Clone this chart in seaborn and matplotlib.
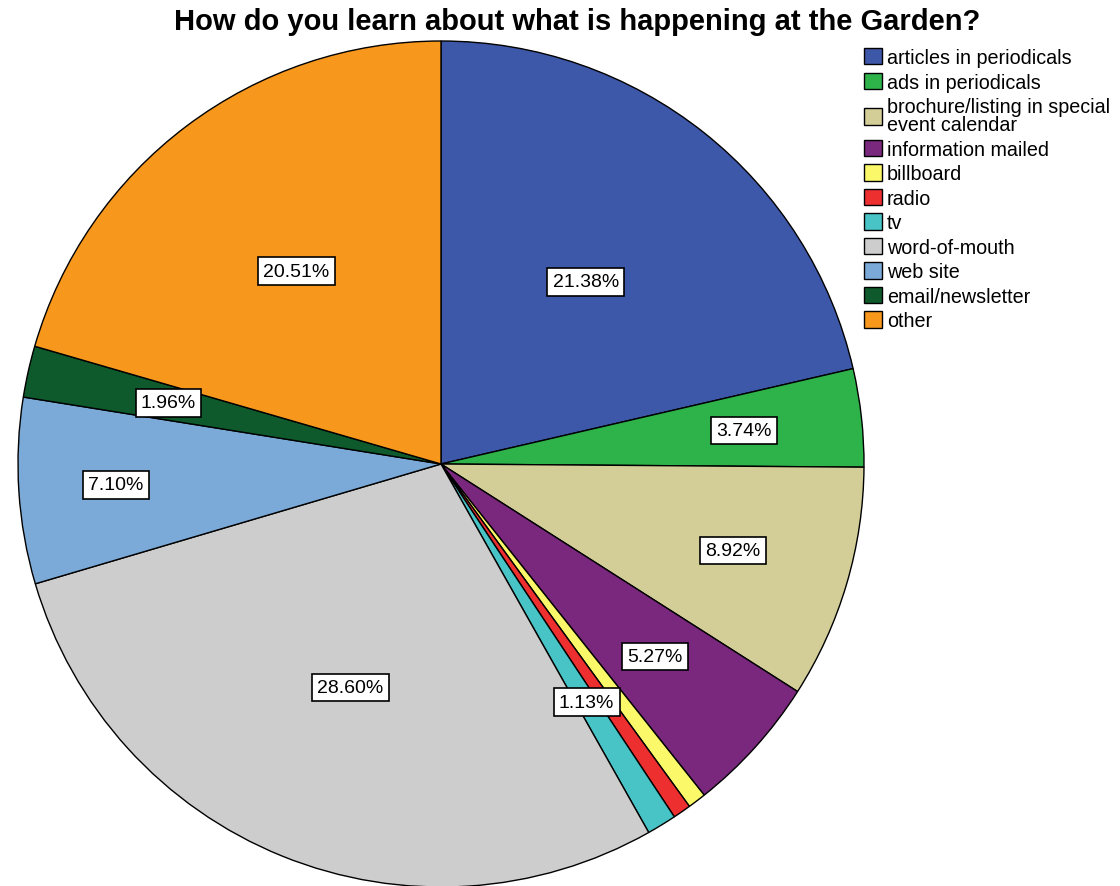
import matplotlib
matplotlib.use("Agg")
import numpy as np
import matplotlib.pyplot as plt
import seaborn as sns

# === data ===
categories = [
    "articles in periodicals",
    "ads in periodicals",
    "brochure/listing in special\nevent calendar",
    "information mailed",
    "billboard",
    "radio",
    "tv",
    "word-of-mouth",
    "web site",
    "email/newsletter",
    "other",
]
percents = [21.38, 3.74, 8.92, 5.27, 0.70, 0.69, 1.13, 28.60, 7.10, 1.96, 20.51]
shown_labels = [True, True, True, True, False, False, True, True, True, True, True]

colors = ["#3D57A9", "#2EB34B", "#D3CD98", "#7A287D", "#FBF86A", "#EE2F30",
          "#48C3C6", "#CDCDCD", "#7BAAD8", "#0F5A2D", "#F7981D"]

# label distance from centre (fraction of radius), per slice
label_r = [0.55, 0.72, 0.72, 0.68, 0.6, 0.6, 0.66, 0.57, 0.77, 0.66, 0.57]

sns.set_theme(style="white")
plt.rcParams["font.family"] = ["Liberation Sans", "DejaVu Sans"]
plt.rcParams["text.color"] = "black"

fig = plt.figure(figsize=(11.2, 8.87), dpi=100)
W, H = 1120, 887
cx, cy, R = 441, 465, 423
ax = fig.add_axes([(cx - R) / W, (H - cy - R) / H, 2 * R / W, 2 * R / H])

wedges, _ = ax.pie(
    percents,
    colors=colors,
    startangle=90,
    counterclock=False,
    wedgeprops=dict(edgecolor="black", linewidth=1.0),
)
ax.set_xlim(-1, 1)
ax.set_ylim(-1, 1)

for w, p, show, r in zip(wedges, percents, shown_labels, label_r):
    if not show:
        continue
    ang = np.deg2rad((w.theta1 + w.theta2) / 2)
    ax.text(r * np.cos(ang), r * np.sin(ang), f"{p:.2f}%",
            ha="center", va="center", fontsize=14, color="black",
            bbox=dict(boxstyle="square,pad=0.27", facecolor="white",
                      edgecolor="black", linewidth=1.2))

fig.text(577 / W, 1 - 22 / H, "How do you learn about what is happening at the Garden?",
         ha="center", va="center", fontsize=21, fontweight="bold", color="black")

leg = fig.legend(wedges, categories, loc="upper left",
                 bbox_to_anchor=(864 / W, 1 - 49 / H), frameon=False,
                 fontsize=14.2, handlelength=0.9, handleheight=0.9,
                 handletextpad=0.25, labelspacing=0.28, borderaxespad=0,
                 borderpad=0)
for t in leg.get_texts():
    t.set_linespacing(0.95)
    t.set_color("black")

fig.savefig("out.png", dpi=100)
